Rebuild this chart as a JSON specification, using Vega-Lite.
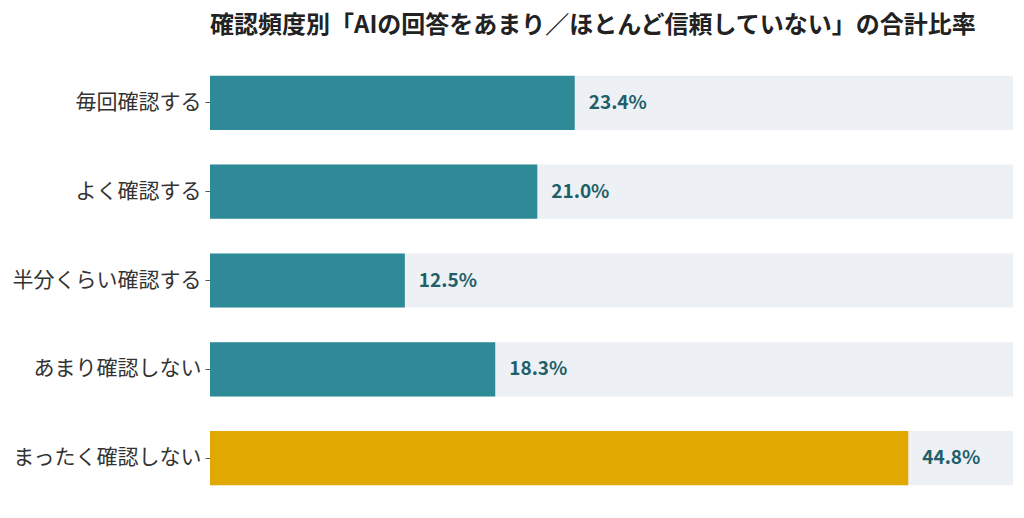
{
  "$schema": "https://vega.github.io/schema/vega-lite/v6.json",
  "autosize": "none",
  "padding": {"left": 210, "top": 58, "right": 11, "bottom": 15},
  "width": 803,
  "height": 445,
  "title": {
    "text": "確認頻度別「AIの回答をあまり／ほとんど信頼していない」の合計比率",
    "anchor": "start",
    "frame": "group",
    "font": "Noto Sans CJK JP",
    "fontSize": 24,
    "fontWeight": "bold",
    "color": "#222222",
    "offset": 20
  },
  "config": {
    "view": {"stroke": null},
    "font": "Noto Sans CJK JP"
  },
  "data": {
    "values": [
      {"freq": "毎回確認する", "pct": 0.234, "group": "confirm", "max": 0.5152},
      {"freq": "よく確認する", "pct": 0.21, "group": "confirm", "max": 0.5152},
      {"freq": "半分くらい確認する", "pct": 0.125, "group": "confirm", "max": 0.5152},
      {"freq": "あまり確認しない", "pct": 0.183, "group": "confirm", "max": 0.5152},
      {"freq": "まったく確認しない", "pct": 0.448, "group": "never", "max": 0.5152}
    ]
  },
  "encoding": {
    "y": {
      "field": "freq",
      "type": "nominal",
      "sort": null,
      "scale": {"paddingInner": 0.39, "paddingOuter": 0.2},
      "axis": {
        "title": null,
        "domain": false,
        "ticks": true,
        "tickSize": 5,
        "tickColor": "#555555",
        "labelFontSize": 21,
        "labelColor": "#333333",
        "labelPadding": 4,
        "labelLimit": 300,
        "labelFont": "Noto Sans CJK JP"
      }
    }
  },
  "layer": [
    {
      "mark": {"type": "bar", "color": "#edf0f4"},
      "encoding": {
        "x": {
          "field": "max",
          "type": "quantitative",
          "scale": {"domain": [0, 0.5152], "nice": false},
          "axis": null
        }
      }
    },
    {
      "mark": {"type": "bar"},
      "encoding": {
        "x": {"field": "pct", "type": "quantitative"},
        "color": {
          "field": "group",
          "type": "nominal",
          "scale": {"domain": ["confirm", "never"], "range": ["#2e8a96", "#e0a800"]},
          "legend": null
        }
      }
    },
    {
      "mark": {
        "type": "text",
        "align": "left",
        "baseline": "middle",
        "dx": 14,
        "fontSize": 19,
        "fontWeight": "bold",
        "color": "#1f6068",
        "font": "Noto Sans CJK JP"
      },
      "encoding": {
        "x": {"field": "pct", "type": "quantitative"},
        "text": {"field": "pct", "type": "quantitative", "format": ".1%"}
      }
    }
  ]
}
